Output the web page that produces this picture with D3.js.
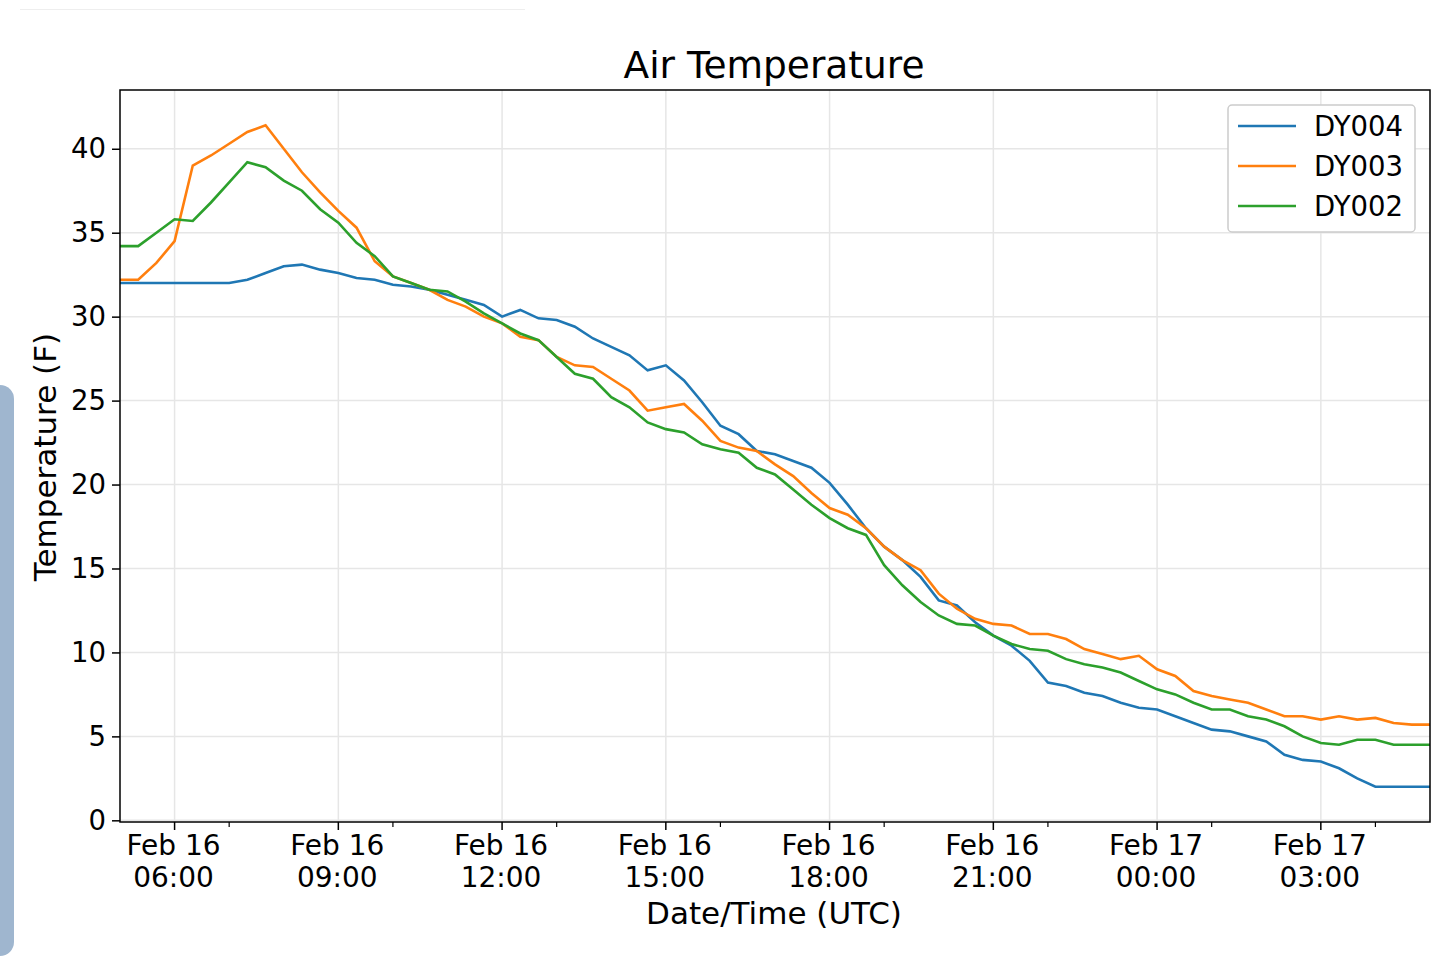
<!DOCTYPE html>
<html><head><meta charset="utf-8">
<script src="https://cdn.jsdelivr.net/npm/d3@7"></script>
<style>body{margin:0;background:#fff}text{font-family:"DejaVu Sans",sans-serif;fill:#000}</style>
</head><body><svg id="c" width="1440" height="956"></svg>
<script>
// readings every 20 minutes, Feb 16 05:00 -> Feb 17 05:00 UTC
const start = new Date(Date.UTC(2019, 1, 16, 5, 0));
const stepMin = 20;
const dy004 = [32.0,32.0,32.0,32.0,32.0,32.0,32.0,32.2,32.6,33.0,33.1,32.8,32.6,32.3,32.2,31.9,31.8,31.6,31.3,31.0,30.7,30.0,30.4,29.9,29.8,29.4,28.7,28.2,27.7,26.8,27.1,26.2,24.9,23.5,23.0,22.0,21.8,21.4,21.0,20.1,18.8,17.4,16.3,15.5,14.5,13.1,12.8,11.8,11.0,10.4,9.5,8.2,8.0,7.6,7.4,7.0,6.7,6.6,6.2,5.8,5.4,5.3,5.0,4.7,3.9,3.6,3.5,3.1,2.5,2.0,2.0,2.0,2.0];
const dy003 = [32.2,32.2,33.2,34.5,39.0,39.6,40.3,41.0,41.4,40.0,38.6,37.4,36.3,35.3,33.3,32.4,32.0,31.6,31.0,30.6,30.0,29.6,28.8,28.6,27.6,27.1,27.0,26.3,25.6,24.4,24.6,24.8,23.8,22.6,22.2,22.0,21.2,20.5,19.5,18.6,18.2,17.4,16.3,15.5,14.9,13.5,12.6,12.0,11.7,11.6,11.1,11.1,10.8,10.2,9.9,9.6,9.8,9.0,8.6,7.7,7.4,7.2,7.0,6.6,6.2,6.2,6.0,6.2,6.0,6.1,5.8,5.7,5.7];
const dy002 = [34.2,34.2,35.0,35.8,35.7,36.8,38.0,39.2,38.9,38.1,37.5,36.4,35.6,34.4,33.6,32.4,32.0,31.6,31.5,30.9,30.2,29.6,29.0,28.6,27.6,26.6,26.3,25.2,24.6,23.7,23.3,23.1,22.4,22.1,21.9,21.0,20.6,19.7,18.8,18.0,17.4,17.0,15.2,14.0,13.0,12.2,11.7,11.6,11.0,10.5,10.2,10.1,9.6,9.3,9.1,8.8,8.3,7.8,7.5,7.0,6.6,6.6,6.2,6.0,5.6,5.0,4.6,4.5,4.8,4.8,4.5,4.5,4.5];
const seriesNames = ["DY004", "DY003", "DY002"];
const seriesColors = ["#1f77b4", "#ff7f0e", "#2ca02c"];
const yTicks = [0,5,10,15,20,25,30,35,40];

const svg = d3.select("#c");
const m = {left:120, right:1430, top:90, bottom:822};

// stray page furniture visible in the screenshot
svg.append("rect").attr("x",-20).attr("y",385).attr("width",34).attr("height",571).attr("rx",14).attr("fill","#9fb6cf");
svg.append("line").attr("x1",20).attr("x2",525).attr("y1",9.5).attr("y2",9.5).attr("stroke","#eee");

const x = d3.scaleUtc().domain([start, d3.utcHour.offset(start, 24)]).range([m.left, m.right]);
const y = d3.scaleLinear().domain([-0.1, 43.5]).range([m.bottom, m.top]);

const majors = d3.range(8).map(i => d3.utcHour.offset(start, 1 + 3*i));
const minors = d3.range(8).map(i => d3.utcHour.offset(start, 2 + 3*i));

// grid
svg.append("g").selectAll("line").data(majors).join("line")
  .attr("x1", d => x(d)).attr("x2", d => x(d)).attr("y1", m.top).attr("y2", m.bottom)
  .attr("stroke", "#e6e6e6").attr("stroke-width", 1.5);
svg.append("g").selectAll("line").data(yTicks).join("line")
  .attr("y1", d => y(d)).attr("y2", d => y(d)).attr("x1", m.left).attr("x2", m.right)
  .attr("stroke", "#e6e6e6").attr("stroke-width", 1.5);

// lines
const line = d3.line().x((d, i) => x(d3.utcMinute.offset(start, i*stepMin))).y(d => y(d));
[dy004, dy003, dy002].forEach((s, k) => {
  svg.append("path").datum(s).attr("d", line).attr("fill", "none")
    .attr("stroke", seriesColors[k]).attr("stroke-width", 2.6);
});

// frame
svg.append("rect").attr("x", m.left).attr("y", m.top).attr("width", m.right-m.left).attr("height", m.bottom-m.top)
  .attr("fill", "none").attr("stroke", "#000").attr("stroke-width", 1.5);

// y axis
const ya = svg.append("g").attr("transform", `translate(${m.left},0)`)
  .call(d3.axisLeft(y).tickValues(yTicks).tickSize(8).tickPadding(6));
ya.select(".domain").remove();
ya.selectAll("text").style("font-size", "27.5px").attr("font-family", "DejaVu Sans");
ya.selectAll("line").attr("stroke-width", 1.5);

// x axis
const fmt = d3.utcFormat("%b %d");
const fmt2 = d3.utcFormat("%H:%M");
const xa = svg.append("g").attr("transform", `translate(0,${m.bottom})`);
xa.selectAll("line.maj").data(majors).join("line").attr("class","maj")
  .attr("x1", d => x(d)).attr("x2", d => x(d)).attr("y1", 0).attr("y2", 8).attr("stroke","#000").attr("stroke-width",1.5);
xa.selectAll("line.min").data(minors).join("line").attr("class","min")
  .attr("x1", d => x(d)).attr("x2", d => x(d)).attr("y1", 0).attr("y2", 5).attr("stroke","#000").attr("stroke-width",1.2);
const tl = xa.selectAll("text").data(majors).join("text").attr("text-anchor","middle").style("font-size","28px");
tl.append("tspan").attr("x", d => x(d) - 1).attr("y", 33).text(fmt);
tl.append("tspan").attr("x", d => x(d) - 1).attr("y", 65).text(fmt2);

// titles
svg.append("text").attr("x", 774).attr("y", 78).attr("text-anchor","middle").style("font-size","37.5px").text("Air Temperature");
svg.append("text").attr("x", 774).attr("y", 924).attr("text-anchor","middle").style("font-size","31px").text("Date/Time (UTC)");
svg.append("text").attr("transform","translate(56,457) rotate(-90)").attr("text-anchor","middle").style("font-size","31px").text("Temperature (F)");

// legend
const lg = svg.append("g").attr("transform","translate(1228,105)");
lg.append("rect").attr("width",187).attr("height",127).attr("rx",4).attr("fill","#fff").attr("stroke","#ccc").attr("stroke-width",1.5);
seriesNames.forEach((n, i) => {
  lg.append("line").attr("x1",10).attr("x2",68).attr("y1",21+40*i).attr("y2",21+40*i).attr("stroke",seriesColors[i]).attr("stroke-width",2.6);
  lg.append("text").attr("x",86).attr("y",31+40*i).style("font-size","27.5px").text(n);
});
</script></body></html>
